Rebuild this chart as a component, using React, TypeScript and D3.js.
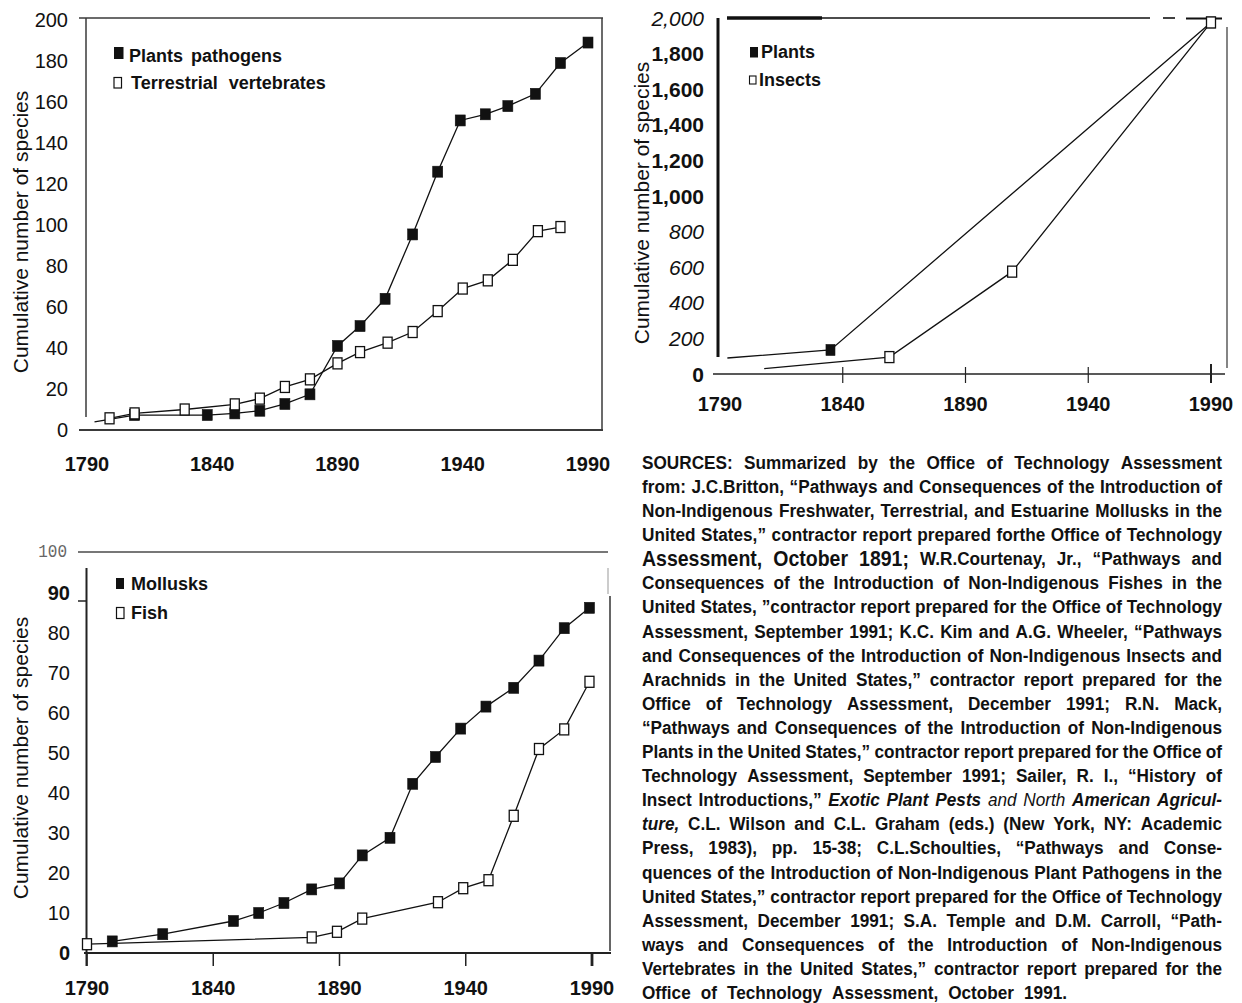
import React, { useMemo } from 'react';
import * as d3 from 'd3';

const W = 1242;
const H = 1003;
const SANS = '"Liberation Sans", Arial, Helvetica, sans-serif';
const NARROW = '"Liberation Sans Narrow", "Arial Narrow", "Liberation Sans", sans-serif';
const MONO = '"Liberation Mono", "Courier New", monospace';
const INK = '#111';

// ---------- shared ----------
const yearTicks = [1790, 1840, 1890, 1940, 1990];
const yTitle = 'Cumulative number of species';

// ---------- Panel A: plant pathogens & terrestrial vertebrates ----------
const aYTicks = [0, 20, 40, 60, 80, 100, 120, 140, 160, 180, 200];
const pathogensStart: [number, number] = [1793, 4];
const pathogensYears = [1809, 1838, 1849, 1859, 1869, 1879, 1890, 1899, 1909, 1920, 1930, 1939, 1949, 1958, 1969, 1979, 1990];
const pathogensValues = [7.3, 7.3, 8.1, 9.4, 12.7, 17.4, 41, 50.7, 64, 95.4, 126, 151, 154, 158, 164, 179, 189];
const vertebratesYears = [1799, 1809, 1829, 1849, 1859, 1869, 1879, 1890, 1899, 1910, 1920, 1930, 1940, 1950, 1960, 1970, 1979];
const vertebratesValues = [5.7, 8.1, 10, 12.5, 15.3, 21, 24.7, 32.5, 38, 42.6, 47.8, 58, 69, 73, 83, 97, 99];

// ---------- Panel B: plants & insects ----------
const bYTicks = [0, 200, 400, 600, 800, 1000, 1200, 1400, 1600, 1800, 2000];
const bItalicTicks = [200, 400, 600, 800, 2000];
const plantsStart: [number, number] = [1793, 90];
const plantsYears = [1835, 1990];
const plantsValues = [135, 1975];
const insectsStart: [number, number] = [1808, 30];
const insectsYears = [1859, 1909, 1990];
const insectsValues = [95, 575, 1975];

// ---------- Panel C: mollusks & fish ----------
const cYTicks = [0, 10, 20, 30, 40, 50, 60, 70, 80, 90];
const cBoldTicks = [0, 90];
const molluskYears = [1800, 1820, 1848, 1858, 1868, 1879, 1890, 1899, 1910, 1919, 1928, 1938, 1948, 1959, 1969, 1979, 1989];
const molluskValues = [2.9, 4.7, 8, 10, 12.5, 15.9, 17.4, 24.4, 28.8, 42.3, 49, 56.1, 61.6, 66.3, 73.1, 81.2, 86.3];
const fishYears = [1790, 1879, 1889, 1899, 1929, 1939, 1949, 1959, 1969, 1979, 1989];
const fishValues = [2.2, 3.9, 5.3, 8.6, 12.7, 16.2, 18.2, 34.3, 51, 55.9, 67.8];

// ---------- Sources text ----------
const SOURCE_LINES = [
  'SOURCES: Summarized by the Office of Technology Assessment',
  'from: J.C.Britton, “Pathways and Consequences of the Introduction of',
  'Non-Indigenous Freshwater, Terrestrial, and Estuarine Mollusks in the',
  'United States,” contractor report prepared forthe Office of Technology',
  '^Assessment,^ ^October^ ^1891;^ W.R.Courtenay, Jr., “Pathways and',
  'Consequences of the Introduction of Non-Indigenous Fishes in the',
  'United States, ”contractor report prepared for the Office of Technology',
  'Assessment, September 1991; K.C. Kim and A.G. Wheeler, “Pathways',
  'and Consequences of the Introduction of Non-Indigenous Insects and',
  'Arachnids in the United States,” contractor report prepared for the',
  'Office of Technology Assessment, December 1991; R.N. Mack,',
  '“Pathways and Consequences of the Introduction of Non-Indigenous',
  'Plants in the United States,” contractor report prepared for the Office of',
  'Technology Assessment, September 1991; Sailer, R. I., “History of',
  'Insect Introductions,” *Exotic* *Plant* *Pests* ~and~ ~North~ *American* *Agricul-*',
  '*ture,* C.L. Wilson and C.L. Graham (eds.) (New York, NY: Academic',
  'Press, 1983), pp. 15-38; C.L.Schoulties, “Pathways and Conse-',
  'quences of the Introduction of Non-Indigenous Plant Pathogens in the',
  'United States,” contractor report prepared for the Office of Technology',
  'Assessment, December 1991; S.A. Temple and D.M. Carroll, “Path-',
  'ways and Consequences of the Introduction of Non-Indigenous',
  'Vertebrates in the United States,” contractor report prepared for the',
  'Office of Technology Assessment, October 1991.',
];

type Scale = d3.ScaleLinear<number, number>;

function Series({ x, y, start, years, values, filled, mw, mh }: {
  x: Scale; y: Scale; start?: [number, number]; years: number[]; values: number[];
  filled: boolean; mw: number; mh: number;
}) {
  const pts = d3.zip(years, values) as [number, number][];
  const all = start ? [start, ...pts] : pts;
  const line = d3.line<[number, number]>().x(d => x(d[0])).y(d => y(d[1]));
  return (
    <g>
      <path d={line(all) || ''} fill="none" stroke={INK} strokeWidth={1.3} />
      {pts.map(([a, b], i) => (
        <rect key={i} x={x(a) - mw / 2} y={y(b) - mh / 2} width={mw} height={mh}
          fill={filled ? INK : '#fff'} stroke={INK} strokeWidth={filled ? 0.6 : 1.3} />
      ))}
    </g>
  );
}

function XLabels({ x, yPos }: { x: Scale; yPos: number }) {
  return (
    <g>
      {yearTicks.map(t => (
        <text key={t} x={x(t)} y={yPos} textAnchor="middle" dominantBaseline="central"
          fontFamily={NARROW} fontWeight="bold" fontSize={20} fill={INK}>{t}</text>
      ))}
    </g>
  );
}

function YTitle({ cx, cy }: { cx: number; cy: number }) {
  return (
    <text transform={`translate(${cx},${cy}) rotate(-90)`} textAnchor="middle" dominantBaseline="central"
      fontFamily={SANS} fontSize={21} fill={INK}>{yTitle}</text>
  );
}

function PanelA() {
  const x = d3.scaleLinear().domain([1790, 1990]).range([87, 588]);
  const y = d3.scaleLinear().domain([0, 200]).range([430, 20]);
  const stroke = '#3a3a3a';
  return (
    <g>
      <line x1={86} y1={18} x2={86} y2={417} stroke={stroke} strokeWidth={1.5} />
      <line x1={79} y1={18} x2={603} y2={18} stroke={stroke} strokeWidth={1.5} />
      <line x1={602} y1={18} x2={602} y2={430} stroke={stroke} strokeWidth={1.5} />
      <line x1={79} y1={430} x2={603} y2={430} stroke={stroke} strokeWidth={1.8} />
      {aYTicks.map(t => (
        <text key={t} x={68} y={y(t)} textAnchor="end" dominantBaseline="central"
          fontFamily={SANS} fontSize={20} fill={INK}>{t}</text>
      ))}
      <XLabels x={x} yPos={464} />
      <YTitle cx={20} cy={232} />
      <Series x={x} y={y} start={pathogensStart} years={pathogensYears} values={pathogensValues} filled mw={10} mh={11} />
      <Series x={x} y={y} years={vertebratesYears} values={vertebratesValues} filled={false} mw={9} mh={11} />
      <rect x={114} y={47} width={9.5} height={12} fill={INK} />
      <text x={129} y={62} fontFamily={SANS} fontWeight="bold" fontSize={18} fill={INK} wordSpacing={3}>Plants pathogens</text>
      <rect x={114} y={77.5} width={7.5} height={10.5} fill="#fff" stroke={INK} strokeWidth={1.2} />
      <text x={131} y={89} fontFamily={SANS} fontWeight="bold" fontSize={18} fill={INK} wordSpacing={6}>Terrestrial vertebrates</text>
    </g>
  );
}

function PanelB() {
  const x = d3.scaleLinear().domain([1790, 1990]).range([720, 1211]);
  const y = d3.scaleLinear().domain([0, 2000]).range([374, 18]);
  const fmt = d3.format(',');
  return (
    <g>
      <line x1={727} y1={18} x2={822} y2={18} stroke={INK} strokeWidth={3.5} />
      <line x1={822} y1={18} x2={1150} y2={18} stroke={INK} strokeWidth={1.6} />
      <line x1={1163} y1={18} x2={1175} y2={18} stroke={INK} strokeWidth={1.6} />
      <line x1={1186} y1={18.5} x2={1222} y2={18.5} stroke={INK} strokeWidth={2.2} />
      <line x1={718} y1={18} x2={718} y2={357} stroke={INK} strokeWidth={3} />
      <line x1={1227} y1={27} x2={1227} y2={368} stroke="#333" strokeWidth={1.2} />
      <line x1={713} y1={374} x2={1225} y2={374} stroke="#222" strokeWidth={1.6} />
      {yearTicks.slice(1).map(t => (
        <line key={t} x1={x(t)} y1={t === 1990 ? 364 : 367} x2={x(t)} y2={383} stroke="#222" strokeWidth={t === 1990 ? 2 : 1.2} />
      ))}
      {bYTicks.map(t => {
        const it = bItalicTicks.includes(t);
        return (
          <text key={t} x={704} y={y(t)} textAnchor="end" dominantBaseline="central"
            fontFamily={SANS} fontSize={21} fontStyle={it ? 'italic' : 'normal'}
            fontWeight={it ? 'normal' : 'bold'} fill={INK}>{fmt(t)}</text>
        );
      })}
      <XLabels x={x} yPos={404} />
      <YTitle cx={641} cy={203} />
      <Series x={x} y={y} start={plantsStart} years={plantsYears} values={plantsValues} filled mw={9} mh={11} />
      <Series x={x} y={y} start={insectsStart} years={insectsYears} values={insectsValues} filled={false} mw={9} mh={11} />
      <rect x={750} y={47} width={8} height={10.5} fill={INK} />
      <text x={761} y={58} fontFamily={SANS} fontWeight="bold" fontSize={18} fill={INK}>Plants</text>
      <rect x={749.5} y={76} width={6.5} height={8} fill="#fff" stroke={INK} strokeWidth={1.1} />
      <text x={759} y={86} fontFamily={SANS} fontWeight="bold" fontSize={18} fill={INK}>Insects</text>
    </g>
  );
}

function PanelC() {
  const x = d3.scaleLinear().domain([1790, 1990]).range([87, 592]);
  const y = d3.scaleLinear().domain([0, 100]).range([953, 553]);
  return (
    <g>
      <line x1={78} y1={552} x2={608} y2={552} stroke="#777" strokeWidth={2} />
      <text transform="translate(67,552) scale(1,1.2)" textAnchor="end" dominantBaseline="central"
        fontFamily={MONO} fontSize={16} fill="#666">100</text>
      <line x1={86.5} y1={568} x2={86.5} y2={966} stroke="#222" strokeWidth={2} />
      <line x1={78} y1={y(90) + 8} x2={87} y2={y(90) + 8} stroke="#222" strokeWidth={1.5} />
      <line x1={608} y1={568} x2={608} y2={594} stroke="#999" strokeWidth={1} />
      <line x1={610} y1={596} x2={610} y2={951} stroke="#333" strokeWidth={1.5} />
      <line x1={84} y1={953} x2={611} y2={953} stroke="#222" strokeWidth={2} />
      {yearTicks.map(t => (
        <line key={t} x1={x(t)} y1={953} x2={x(t)} y2={966} stroke="#222" strokeWidth={t === 1990 ? 2.8 : 1.5} />
      ))}
      {cYTicks.map(t => (
        <text key={t} x={70} y={y(t)} textAnchor="end" dominantBaseline="central"
          fontFamily={SANS} fontSize={20} fontWeight={cBoldTicks.includes(t) ? 'bold' : 'normal'} fill={INK}>{t}</text>
      ))}
      <XLabels x={x} yPos={988} />
      <YTitle cx={20} cy={758} />
      <Series x={x} y={y} years={molluskYears} values={molluskValues} filled mw={10} mh={11} />
      <Series x={x} y={y} years={fishYears} values={fishValues} filled={false} mw={9} mh={11} />
      <rect x={116} y={578} width={8} height={11} fill={INK} />
      <text x={131} y={590} fontFamily={SANS} fontWeight="bold" fontSize={18} fill={INK}>Mollusks</text>
      <rect x={116.5} y={607.5} width={7.5} height={11} fill="#fff" stroke={INK} strokeWidth={1.2} />
      <text x={131} y={619} fontFamily={SANS} fontWeight="bold" fontSize={18} fill={INK}>Fish</text>
    </g>
  );
}

type Tok = { text: string; italic: boolean; bold: boolean; size: number };
const BODY = 17.2;
const BIG = 19.5;

function parseTok(raw: string): Tok {
  if (raw.length > 2 && raw.startsWith('*') && raw.endsWith('*')) return { text: raw.slice(1, -1), italic: true, bold: true, size: BODY };
  if (raw.length > 2 && raw.startsWith('~') && raw.endsWith('~')) return { text: raw.slice(1, -1), italic: true, bold: false, size: BODY };
  if (raw.length > 2 && raw.startsWith('^') && raw.endsWith('^')) return { text: raw.slice(1, -1), italic: false, bold: true, size: BIG };
  return { text: raw, italic: false, bold: true, size: BODY };
}

function Sources() {
  const left = 642;
  const right = 1222;
  const top = 462;
  const lh = 24.1;
  const layout = useMemo(() => {
    const canvas = document.createElement('canvas');
    const ctx = canvas.getContext('2d')!;
    const fontOf = (t: Tok) => `${t.italic ? 'italic ' : ''}${t.bold ? 'bold ' : ''}${t.size}px "Liberation Sans", Arial, sans-serif`;
    return SOURCE_LINES.map((line, li) => {
      const toks = line.split(' ').map(parseTok);
      const widths = toks.map(t => { ctx.font = fontOf(t); return ctx.measureText(t.text).width; });
      const sum = d3.sum(widths);
      const gaps = toks.length - 1;
      const last = li === SOURCE_LINES.length - 1;
      let space = last ? 10 : (right - left - sum) / gaps;
      let k = 1;
      if (space < 3.5) { space = 3.5; k = (right - left) / (sum + gaps * space); }
      let cx = 0;
      const xs = widths.map((w) => { const p = cx; cx += w + space; return p; });
      return { toks, xs, k };
    });
  }, []);
  return (
    <g>
      {layout.map((ln, i) => (
        <g key={i} transform={`translate(${left},${top + i * lh}) scale(${ln.k},1.12)`}>
          {ln.toks.map((t, j) => (
            <text key={j} x={ln.xs[j]} y={0} dominantBaseline="central" fontFamily={SANS}
              fontSize={t.size} fontWeight={t.bold ? 'bold' : 'normal'} fontStyle={t.italic ? 'italic' : 'normal'}
              fill={INK}>{t.text}</text>
          ))}
        </g>
      ))}
    </g>
  );
}

export default function App() {
  return (
    <div style={{ position: 'absolute', left: 0, top: 0, width: W, height: H, background: '#fff' }}>
      <svg width={W} height={H} viewBox={`0 0 ${W} ${H}`} style={{ display: 'block' }}>
        <rect x={0} y={0} width={W} height={H} fill="#fff" />
        <PanelA />
        <PanelB />
        <PanelC />
        <Sources />
      </svg>
    </div>
  );
}
